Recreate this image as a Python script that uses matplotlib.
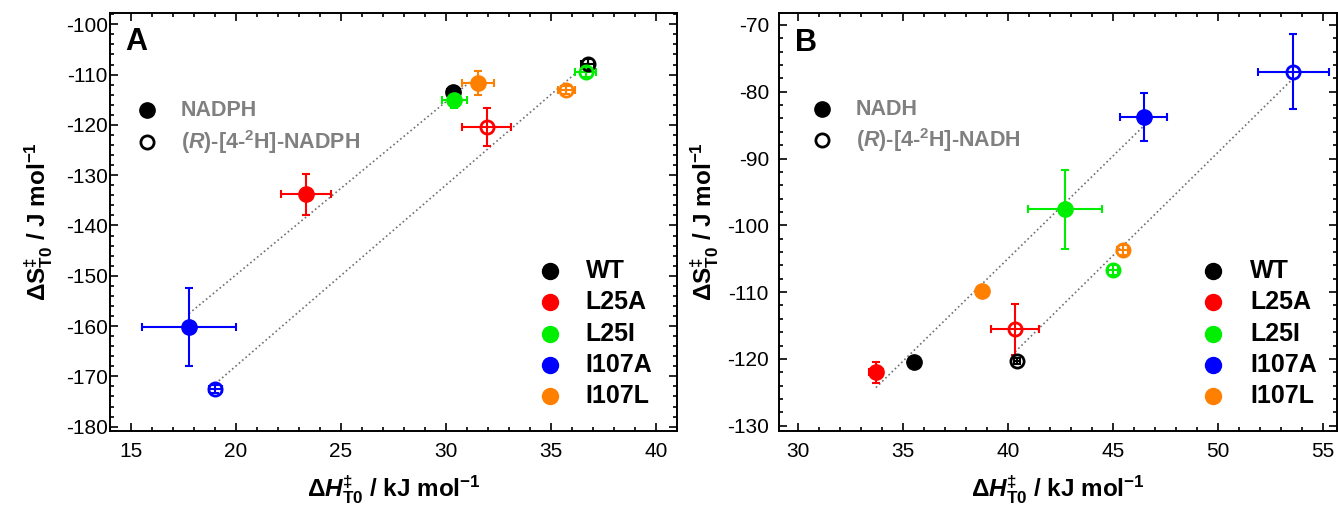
import matplotlib
matplotlib.use("Agg")
import matplotlib.pyplot as plt
import numpy as np

plt.rcParams['font.family'] = ['Liberation Sans', 'DejaVu Sans']
plt.rcParams['mathtext.fontset'] = 'custom'
plt.rcParams['mathtext.rm'] = 'Liberation Sans'
plt.rcParams['mathtext.it'] = 'Liberation Sans:italic'
plt.rcParams['mathtext.bf'] = 'Liberation Sans:bold'
plt.rcParams['mathtext.bfit'] = 'Liberation Sans:bold:italic'
plt.rcParams['axes.unicode_minus'] = False

# variants and colours
variants = ['WT', 'L25A', 'L25I', 'I107A', 'I107L']
colors = ['#000000', '#ff0000', '#00ee00', '#0000ff', '#ff8000']

# panel A: NADPH (filled) and (R)-[4-2H]-NADPH (open)
a_h = [30.35, 23.33, 30.40, 17.76, 31.52]
a_s = [-113.5, -133.8, -115.1, -160.2, -111.6]
a_h_err = [0.3, 1.2, 0.6, 2.25, 0.75]
a_s_err = [1.0, 4.1, 1.5, 7.7, 2.4]
a_hd = [36.75, 31.93, 36.65, 19.02, 35.73]
a_sd = [-107.9, -120.4, -109.5, -172.6, -113.0]
a_hd_err = [0.3, 1.15, 0.5, 0.3, 0.4]
a_sd_err = [1.0, 3.8, 1.0, 0.8, 0.8]

# panel B: NADH (filled) and (R)-[4-2H]-NADH (open)
b_h = [35.49, 33.70, 42.70, 46.46, 38.74]
b_s = [-120.4, -122.0, -97.6, -83.8, -109.9]
b_h_err = [0.2, 0.35, 1.75, 1.12, 0.2]
b_s_err = [0.6, 1.6, 5.95, 3.55, 0.6]
b_hd = [40.41, 40.33, 44.98, 53.58, 45.45]
b_sd = [-120.3, -115.6, -106.7, -77.0, -103.7]
b_hd_err = [0.15, 1.15, 0.25, 1.69, 0.25]
b_sd_err = [0.5, 3.75, 0.7, 5.65, 0.7]

fig = plt.figure(figsize=(13.38, 5.08), dpi=100)
ax1 = fig.add_axes([0.0822, 0.1522, 0.4238, 0.8217])
ax2 = fig.add_axes([0.5820, 0.1522, 0.4174, 0.8217])


def fit_line(ax, x, y):
    k, b = np.polyfit(x, y, 1)
    xs = np.array([min(x), max(x)])
    ax.plot(xs, k * xs + b, ls=':', color='#707070', lw=1.2, zorder=1)


def draw_points(ax, x, y, xe, ye, filled):
    for i in range(len(variants)):
        c = colors[i]
        ax.errorbar(x[i], y[i], xerr=xe[i], yerr=ye[i], fmt='none',
                    ecolor=c, elinewidth=1.5, capsize=2.8, capthick=1.5, zorder=2)
        if filled:
            ax.plot(x[i], y[i], 'o', ms=11, color=c, mec=c, zorder=3)
        else:
            ax.plot(x[i], y[i], 'o', ms=9.5, mfc='none', mec=c, mew=2.0, zorder=3)


def style_axes(ax, xlim, ylim, xmaj, ymaj, ypad):
    ax.set_xlim(*xlim)
    ax.set_ylim(*ylim)
    ax.xaxis.set_major_locator(plt.MultipleLocator(xmaj))
    ax.xaxis.set_minor_locator(plt.MultipleLocator(1))
    ax.yaxis.set_major_locator(plt.MultipleLocator(ymaj))
    ax.yaxis.set_minor_locator(plt.MultipleLocator(2))
    ax.tick_params(which='both', direction='in', top=True, right=True, width=1.2)
    ax.tick_params(which='major', length=5.5, labelsize=15)
    ax.tick_params(which='minor', length=3)
    ax.tick_params(axis='x', which='major', pad=8)
    ax.tick_params(axis='y', which='major', pad=ypad)
    for sp in ax.spines.values():
        sp.set_linewidth(1.4)


def add_legends(ax, cof_names, mx, tx, my1, my2, cx, ctx):
    ax.plot([mx], [my1], 'o', ms=11, color='k', transform=ax.transAxes, clip_on=False)
    ax.plot([mx], [my2], 'o', ms=9.5, mfc='none', mec='k', mew=2.0,
            transform=ax.transAxes, clip_on=False)
    ax.text(tx, my1, cof_names[0], transform=ax.transAxes, color='#808080',
            fontsize=15.5, fontweight='bold', va='center', ha='left')
    ax.text(tx, my2, cof_names[1], transform=ax.transAxes, color='#808080',
            fontsize=15.5, fontweight='bold', va='center', ha='left')
    row_y = 0.382 - np.arange(len(variants)) * 0.0749
    for i, name in enumerate(variants):
        ax.plot([cx], [row_y[i]], 'o', ms=11.5, color=colors[i], transform=ax.transAxes)
        ax.text(ctx, row_y[i], name, transform=ax.transAxes, fontsize=18,
                fontweight='bold', va='center', ha='left')


xlab = r'$\mathbf{\Delta}\mathbfit{H}^{\mathbf{‡}}_{\mathbf{T0}}$ / kJ mol$^{\mathbf{-1}}$'
ylab = r'$\mathbf{\Delta S}^{\mathbf{‡}}_{\mathbf{T0}}$ / J mol$^{\mathbf{-1}}$'

# panel A
fit_line(ax1, a_h, a_s)
fit_line(ax1, a_hd, a_sd)
draw_points(ax1, a_h, a_s, a_h_err, a_s_err, True)
draw_points(ax1, a_hd, a_sd, a_hd_err, a_sd_err, False)
style_axes(ax1, (14.0, 41.0), (-180.8, -97.8), 5, 10, 1.5)
ax1.set_xlabel(xlab, fontsize=17.5, fontweight='bold', labelpad=9)
ax1.set_ylabel(ylab, fontsize=17.5, fontweight='bold', labelpad=8)
ax1.text(0.027, 0.931, 'A', transform=ax1.transAxes, fontsize=22,
         fontweight='bold', va='center', ha='left')
add_legends(ax1, ['NADPH', r'($\mathbfit{R}$)-[4-$^{\mathbf{2}}$H]-NADPH'],
            0.0647, 0.125, 0.768, 0.692, 0.776, 0.839)

# panel B
fit_line(ax2, b_h, b_s)
fit_line(ax2, b_hd, b_sd)
draw_points(ax2, b_h, b_s, b_h_err, b_s_err, True)
draw_points(ax2, b_hd, b_sd, b_hd_err, b_sd_err, False)
style_axes(ax2, (29.07, 55.67), (-130.75, -68.25), 5, 10, 7)
ax2.set_xlabel(xlab, fontsize=17.5, fontweight='bold', labelpad=9)
ax2.set_ylabel(ylab, fontsize=17.5, fontweight='bold', labelpad=4)
ax2.text(0.029, 0.929, 'B', transform=ax2.transAxes, fontsize=22,
         fontweight='bold', va='center', ha='left')
add_legends(ax2, ['NADH', r'($\mathbfit{R}$)-[4-$^{\mathbf{2}}$H]-NADH'],
            0.078, 0.138, 0.770, 0.696, 0.7776, 0.844)

fig.savefig('out.png', dpi=100)
